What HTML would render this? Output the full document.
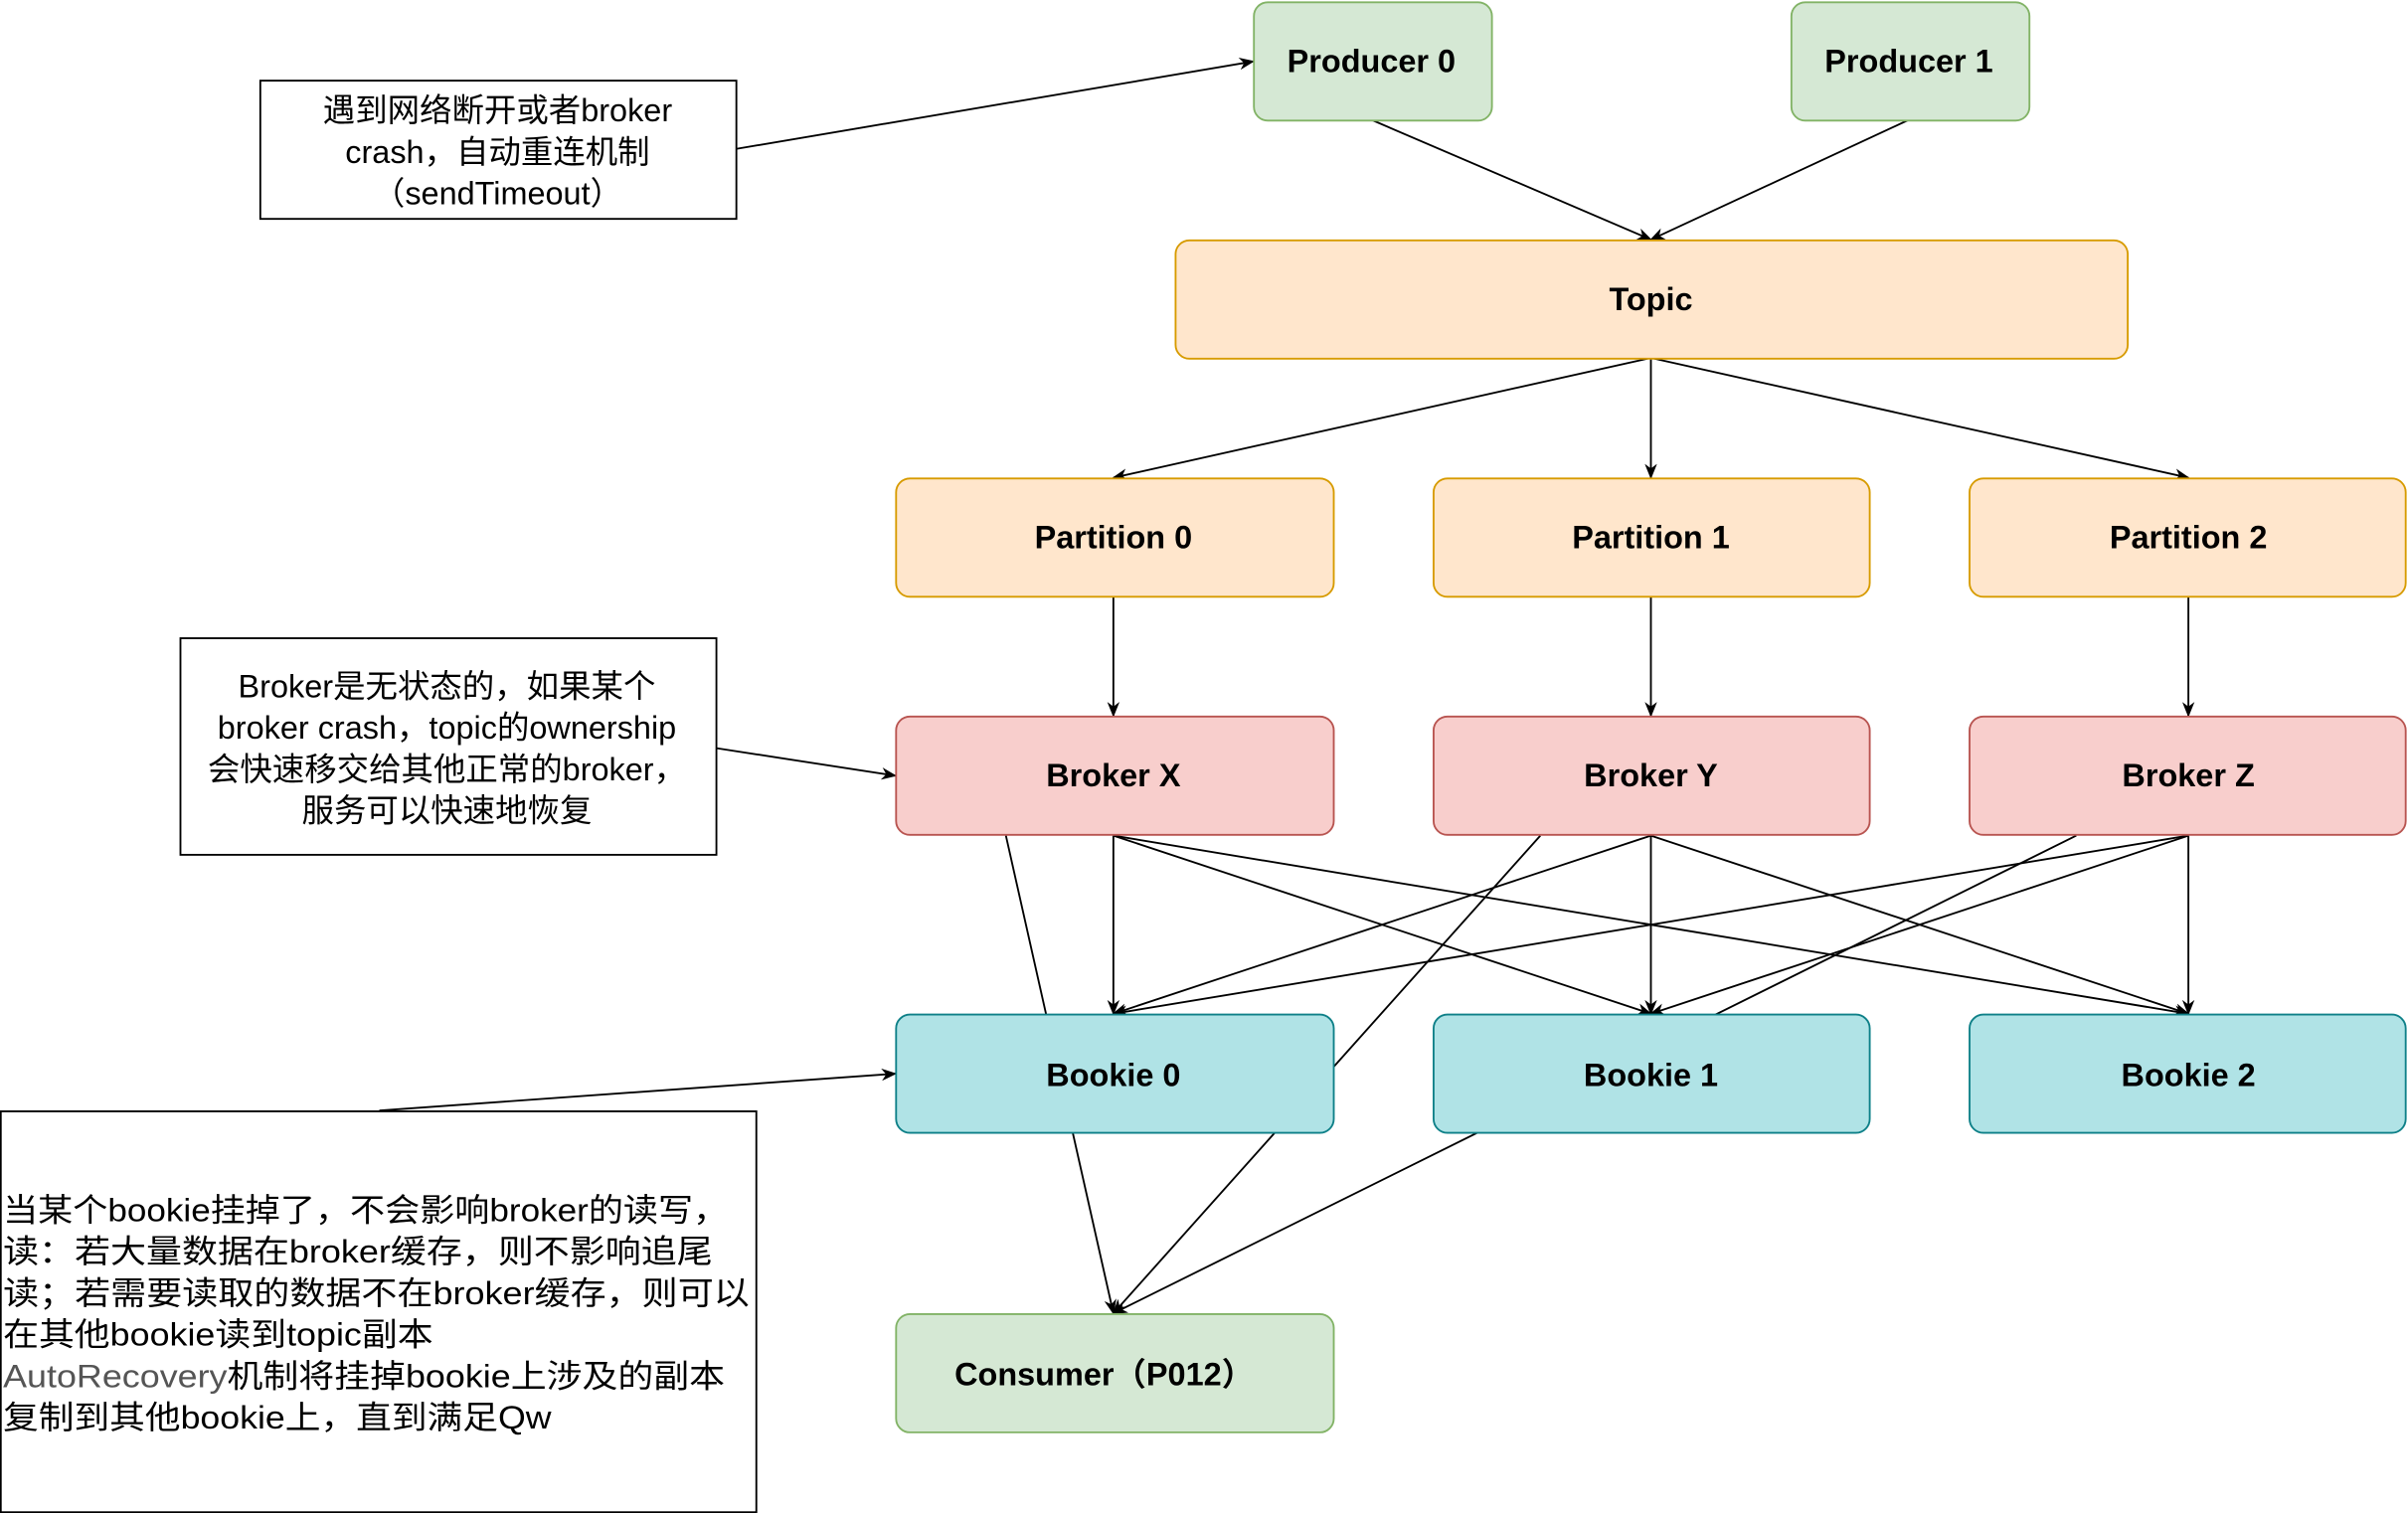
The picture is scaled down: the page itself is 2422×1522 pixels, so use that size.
<!DOCTYPE html>
<html><head><meta charset="utf-8"><style>
html,body{margin:0;padding:0;background:#fff;}
svg{display:block}
text{font-family:"Liberation Sans","Noto Sans CJK SC",sans-serif;}
.b{font-weight:bold;font-size:21px;text-anchor:middle;}
.n{font-size:21px;}
</style></head><body>
<svg width="2422" height="1522" viewBox="0 0 1568 985" preserveAspectRatio="none" xmlns="http://www.w3.org/2000/svg">
<defs><marker id="a" markerWidth="10" markerHeight="8" refX="9" refY="4" orient="auto" markerUnits="userSpaceOnUse"><path d="M0,0 L10,4 L0,8 L3,4 Z" fill="#000"/></marker></defs>
<g stroke="#000" stroke-width="1.2" fill="none" marker-end="url(#a)">
<line x1="893" y1="78" x2="1075" y2="156"/>
<line x1="1243" y1="78" x2="1075" y2="156"/>
<line x1="1075" y1="233" x2="725" y2="311"/>
<line x1="1075" y1="233" x2="1075" y2="311"/>
<line x1="1075" y1="233" x2="1425" y2="311"/>
<line x1="725" y1="388" x2="725" y2="466"/>
<line x1="1075" y1="388" x2="1075" y2="466"/>
<line x1="1425" y1="388" x2="1425" y2="466"/>
<line x1="725" y1="544" x2="725" y2="660"/>
<line x1="725" y1="544" x2="1075" y2="660"/>
<line x1="725" y1="544" x2="1425" y2="660"/>
<line x1="1075" y1="544" x2="725" y2="660"/>
<line x1="1075" y1="544" x2="1075" y2="660"/>
<line x1="1075" y1="544" x2="1425" y2="660"/>
<line x1="1425" y1="544" x2="725" y2="660"/>
<line x1="1425" y1="544" x2="1075" y2="660"/>
<line x1="1425" y1="544" x2="1425" y2="660"/>
<line x1="655" y1="544" x2="725" y2="855"/>
<line x1="1003" y1="544" x2="725" y2="855"/>
<line x1="1352" y1="544" x2="725" y2="855"/>
<line x1="479" y1="97" x2="816" y2="40"/>
<line x1="466" y1="487" x2="583" y2="505"/>
<line x1="247" y1="723" x2="583" y2="699"/>
</g>
<g stroke-width="1.2">
<rect x="816.5" y="1.5" width="155" height="77" rx="9" fill="#d5e8d4" stroke="#82b366"/>
<rect x="1166.5" y="1.5" width="155" height="77" rx="9" fill="#d5e8d4" stroke="#82b366"/>
<rect x="765.5" y="156.5" width="620" height="77" rx="9" fill="#ffe6cc" stroke="#d79b00"/>
<rect x="583.5" y="311.5" width="285" height="77" rx="9" fill="#ffe6cc" stroke="#d79b00"/>
<rect x="933.5" y="311.5" width="284" height="77" rx="9" fill="#ffe6cc" stroke="#d79b00"/>
<rect x="1282.5" y="311.5" width="284" height="77" rx="9" fill="#ffe6cc" stroke="#d79b00"/>
<rect x="583.5" y="466.5" width="285" height="77" rx="9" fill="#f8cecc" stroke="#b85450"/>
<rect x="933.5" y="466.5" width="284" height="77" rx="9" fill="#f8cecc" stroke="#b85450"/>
<rect x="1282.5" y="466.5" width="284" height="77" rx="9" fill="#f8cecc" stroke="#b85450"/>
<rect x="583.5" y="660.5" width="285" height="77" rx="9" fill="#b0e3e6" stroke="#0e8088"/>
<rect x="933.5" y="660.5" width="284" height="77" rx="9" fill="#b0e3e6" stroke="#0e8088"/>
<rect x="1282.5" y="660.5" width="284" height="77" rx="9" fill="#b0e3e6" stroke="#0e8088"/>
<rect x="583.5" y="855.5" width="285" height="77" rx="9" fill="#d5e8d4" stroke="#82b366"/>
<rect x="169.5" y="52.5" width="310" height="90" fill="#fff" stroke="#000"/>
<rect x="117.5" y="415.5" width="349" height="141" fill="#fff" stroke="#000"/>
<rect x="0.5" y="723.5" width="492" height="261" fill="#fff" stroke="#000"/>
</g>
<text class="b" x="893" y="47">Producer 0</text>
<text class="b" x="1243" y="47">Producer 1</text>
<text class="b" x="1075" y="202">Topic</text>
<text class="b" x="725" y="357">Partition 0</text>
<text class="b" x="1075" y="357">Partition 1</text>
<text class="b" x="1425" y="357">Partition 2</text>
<text class="b" x="725" y="512">Broker X</text>
<text class="b" x="1075" y="512">Broker Y</text>
<text class="b" x="1425" y="512">Broker Z</text>
<text class="b" x="725" y="707">Bookie 0</text>
<text class="b" x="1075" y="707">Bookie 1</text>
<text class="b" x="1425" y="707">Bookie 2</text>
<text class="b" x="719" y="902">Consumer（P012）</text>
<g class="n" text-anchor="middle">
<text x="324" y="79">遇到网络断开或者broker</text>
<text x="324" y="106">crash，自动重连机制</text>
<text x="324" y="133">（sendTimeout）</text>
<text x="291" y="454">Broker是无状态的，如果某个</text>
<text x="291" y="481">broker crash，topic的ownership</text>
<text x="291" y="508">会快速移交给其他正常的broker，</text>
<text x="291" y="535">服务可以快速地恢复</text>
</g>
<g class="n">
<text x="2" y="795" textLength="472" lengthAdjust="spacingAndGlyphs">当某个bookie挂掉了，不会影响broker的读写，</text>
<text x="2" y="822" textLength="462" lengthAdjust="spacingAndGlyphs">读：若大量数据在broker缓存，则不影响追尾</text>
<text x="2" y="849" textLength="486" lengthAdjust="spacingAndGlyphs">读；若需要读取的数据不在broker缓存，则可以</text>
<text x="2" y="876" textLength="280" lengthAdjust="spacingAndGlyphs">在其他bookie读到topic副本</text>
<text x="2" y="903" textLength="470" lengthAdjust="spacingAndGlyphs"><tspan fill="#555">AutoRecovery</tspan>机制将挂掉bookie上涉及的副本</text>
<text x="2" y="930" textLength="357" lengthAdjust="spacingAndGlyphs">复制到其他bookie上，直到满足Qw</text>
</g>
</svg>
</body></html>
